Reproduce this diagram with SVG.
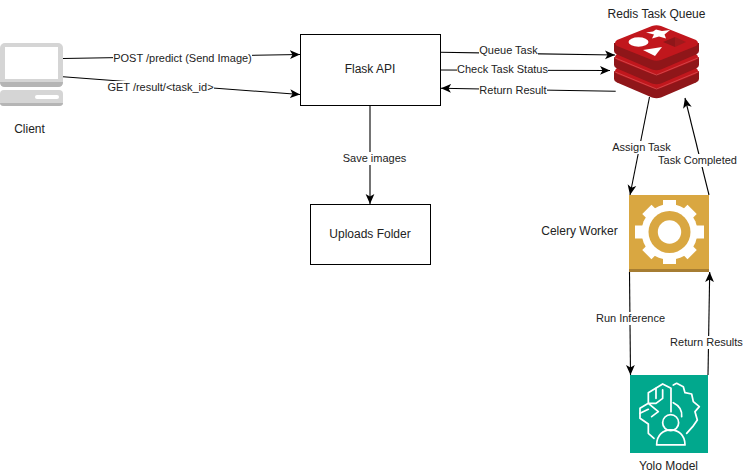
<svg xmlns="http://www.w3.org/2000/svg" width="743" height="475" viewBox="0 0 743 475">
<style>
text{font-family:"Liberation Sans",Arial,sans-serif;fill:#222;text-anchor:middle}
.n{font-size:12px}
.e{font-size:11px}
.box{fill:#fff;stroke:#000;stroke-width:1}
.c{fill:none;stroke:#000;stroke-width:1.1;marker-end:url(#arrow)}
.lb{fill:#fff}
.ic{fill:none;stroke:#fff;stroke-width:5.200;stroke-linejoin:round;stroke-linecap:round}
</style>
<defs>
<marker id="arrow" markerUnits="userSpaceOnUse" markerWidth="12" markerHeight="10" refX="10" refY="5" orient="auto">
<path d="M0 .6L10 5L0 9.400L2.500 5Z" fill="#000"/>
</marker>
<g id="layer">
<path d="M614 43V51Q614 53 617 54.500L652 69.500Q656.500 71 661 69.500L696 54.500Q699 53 699 51V43Z" fill="#8f1619"/>
<path d="M617 40L652 26Q656.500 24.500 661 26L696 40Q700 43 696 46L661 60Q656.500 61.500 652 60L617 46Q613 43 617 40Z" fill="#c1171d"/>
</g>
</defs>
<rect width="743" height="475" fill="#fff"/>
<g id="connectors">
<path class="c" d="M63 58.500L300 54.500"/>
<path class="c" d="M63 76.700L300 94.500"/>
<path class="c" d="M370 105V204"/>
<path class="c" d="M440 52.300L615 55"/>
<path class="c" d="M440 70L610 70.500"/>
<path class="c" d="M615.700 91.300L441 88.300"/>
<path class="c" d="M649.500 97L630 195"/>
<path class="c" d="M709 195L685 98"/>
<path class="c" d="M629.500 272L630.500 375"/>
<path class="c" d="M708 375L709.700 272"/>
<g id="connector-labels">
<rect class="lb" x="113" y="52" width="139" height="13"/><text class="e" x="182.500" y="62">POST /predict (Send Image)</text>
<rect class="lb" x="108" y="81" width="106" height="13"/><text class="e" x="160.500" y="91">GET /result/&lt;task_id&gt;</text>
<rect class="lb" x="343" y="152" width="63" height="13"/><text class="e" x="374.500" y="162">Save images</text>
<rect class="lb" x="479" y="44" width="59" height="13"/><text class="e" x="508.500" y="54">Queue Task</text>
<rect class="lb" x="457" y="63" width="91" height="13"/><text class="e" x="502.500" y="73">Check Task Status</text>
<rect class="lb" x="479" y="84" width="68" height="13"/><text class="e" x="513" y="94">Return Result</text>
<rect class="lb" x="612" y="141" width="59" height="13"/><text class="e" x="641.500" y="151">Assign Task</text>
<rect class="lb" x="658" y="154" width="79" height="13"/><text class="e" x="697.500" y="164">Task Completed</text>
<rect class="lb" x="596" y="312" width="69" height="13"/><text class="e" x="630.500" y="322">Run Inference</text>
<rect class="lb" x="670" y="336" width="73" height="13"/><text class="e" x="706.500" y="346">Return Results</text>
</g>
</g>
<g id="client">
<rect x="0" y="43" width="63" height="44" rx="5" fill="#d5d5d5"/>
<path d="M0 82H63Q63 87 58 87H5Q0 87 0 82Z" fill="#b5b5b5"/>
<rect x="5" y="47" width="53" height="32" fill="#fff"/>
<rect x="0" y="90" width="63" height="16" rx="4" fill="#d5d5d5"/>
<path d="M0 103H63Q63 106 59 106H4Q0 106 0 103Z" fill="#b5b5b5"/>
<rect x="35" y="95" width="24" height="4" rx="2" fill="#fff"/>
<text class="n" x="29.500" y="133">Client</text>
</g>
<g id="flask-api">
<rect class="box" x="300.500" y="34.500" width="140" height="71"/>
<text class="n" x="370" y="73">Flask API</text>
</g>
<g id="uploads-folder">
<rect class="box" x="310.500" y="204.500" width="120" height="60"/>
<text class="n" x="370" y="238">Uploads Folder</text>
</g>
<g id="redis-task-queue">
<use href="#layer" y="28"/>
<use href="#layer" y="14"/>
<use href="#layer"/>
<path d="M614 57.500L656.500 75L699 57.500M614 71.500L656.500 89L699 71.500" fill="none" stroke="#d9575a" stroke-width=".7"/>
<path d="M656 29.500L662 31L670 30L664.500 34.500L666 38.500L659 36.500L652 38.500L654 34.500L646 32.500L653 31.500Z" fill="#fff"/>
<ellipse cx="638.500" cy="42" rx="10" ry="4.700" fill="#fff"/>
<path d="M643 50L662 47L655 56Z" fill="#fff"/>
<path d="M663 42L675 37V47Z" fill="#8f1619"/>
<path d="M675 37L686 42L675 47Z" fill="#a01a1c"/>
<text class="n" x="656.500" y="18">Redis Task Queue</text>
</g>
<g id="celery-worker">
<rect x="629" y="195" width="80" height="74" fill="#d9a741"/>
<rect x="629" y="269" width="80" height="3" fill="#a67d32"/>
<g fill="#fff" transform="translate(669.500 232)">
<circle r="28"/>
<rect x="-6.500" y="-32" width="13" height="64"/>
<rect x="-6.500" y="-32" width="13" height="64" transform="rotate(45)"/>
<rect x="-6.500" y="-34.500" width="13" height="69" transform="rotate(90)"/>
<rect x="-6.500" y="-32" width="13" height="64" transform="rotate(135)"/>
</g>
<circle cx="669.500" cy="232" r="21" fill="#d9a741"/>
<circle cx="669.500" cy="232" r="11.700" fill="#fff"/>
<text class="n" x="579.500" y="235">Celery Worker</text>
</g>
<g id="yolo-model">
<rect x="630" y="375" width="78" height="78" fill="#01a88d"/>
<g class="ic" transform="translate(580 270) scale(.3333)">
<path d="M273 355V425M273 355L248 342L205 368V400L180 415V445L205 462V490L222 505"/>
<path d="M228 355V385M248 360V385L228 400H205M205 400L235 425L215 440M180 430L205 418"/>
<path d="M280 345L290 340L310 350L315 368L335 372L340 395L358 410L345 425L352 450L338 470L320 490"/>
<path d="M280 398Q308 412 305 440"/>
<circle cx="272" cy="458" r="24"/>
<path d="M230 525C230 495 250 480 272 480C295 480 315 495 315 525Z"/>
</g>
<text class="n" x="668.500" y="470">Yolo Model</text>
</g>
</svg>
